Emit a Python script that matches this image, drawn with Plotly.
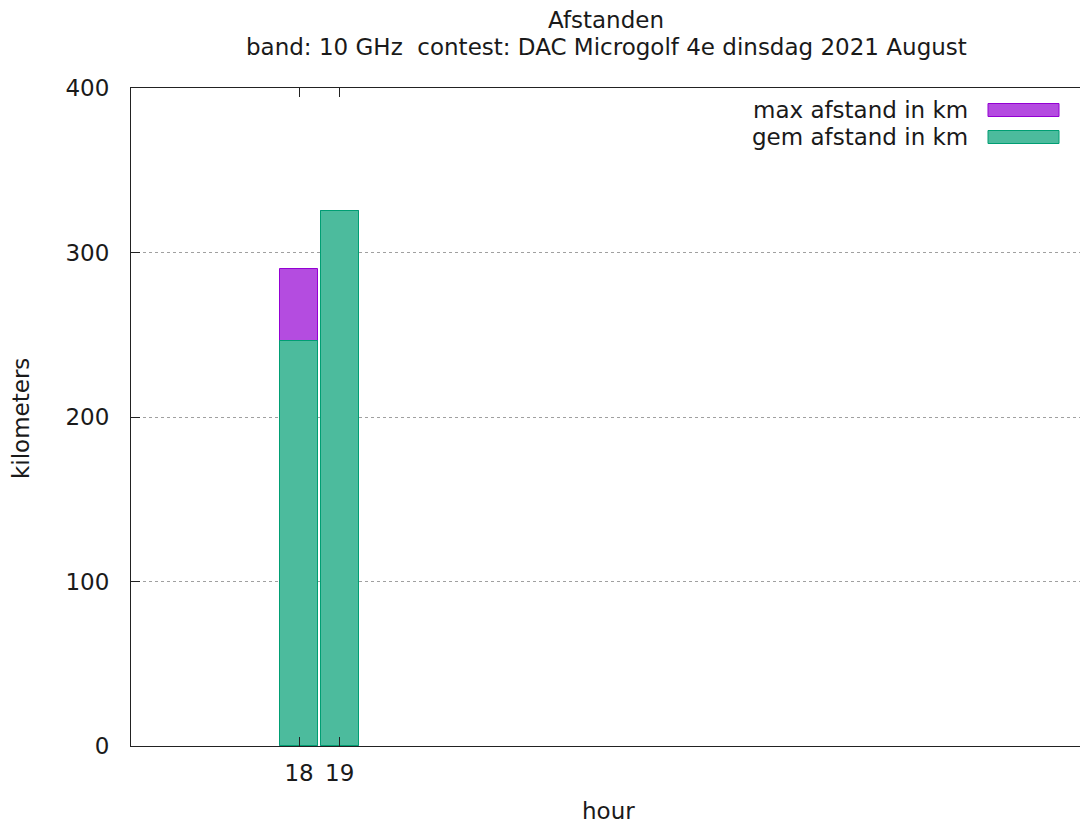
import plotly.graph_objects as go

hours = [18, 19]
max_km = [290, 325]
gem_km = [246, 325]
tick_labels = ["18", "19"]
y_ticks = [0, 100, 200, 300, 400]

FONT = "DejaVu Sans"
FS = 23
TXT = "#1a1a1a"

# plot area in page px: x 131..1080, y 88..746
def fx(px):
    return (px - 131) / 949

def fy(py):
    return (746 - py) / 658

fig = go.Figure()
fig.add_trace(go.Bar(
    x=hours, y=max_km, width=0.94, name="max afstand in km",
    marker=dict(color="#b44ce0", line=dict(color="#9400d3", width=1)),
    showlegend=False,
))
fig.add_trace(go.Bar(
    x=hours, y=gem_km, width=0.94, name="gem afstand in km",
    marker=dict(color="#4cbb9d", line=dict(color="#009e73", width=1)),
    showlegend=False,
))

legend_items = [("max afstand in km", "#b44ce0", "#9400d3"),
                ("gem afstand in km", "#4cbb9d", "#009e73")]
for i, (lab, fc, lc) in enumerate(legend_items):
    yc = 110 + i * 27
    fig.add_annotation(
        xref="paper", yref="paper", x=fx(970), y=fy(yc),
        text=lab, showarrow=False, xanchor="right", yanchor="middle",
        font=dict(family=FONT, size=FS, color=TXT),
    )
    fig.add_shape(
        type="rect", xref="paper", yref="paper",
        x0=fx(988), x1=fx(1059), y0=fy(yc + 6.5), y1=fy(yc - 6.5),
        fillcolor=fc, line=dict(color=lc, width=1),
    )

for txt, yc in [("Afstanden", 20),
                ("band: 10 GHz  contest: DAC Microgolf 4e dinsdag 2021 August", 47)]:
    fig.add_annotation(
        xref="paper", yref="paper", x=fx(606), y=fy(yc), text=txt,
        showarrow=False, xanchor="center", yanchor="middle",
        font=dict(family=FONT, size=FS, color=TXT),
    )
fig.add_annotation(
    xref="paper", yref="paper", x=fx(608), y=fy(811), text="hour",
    showarrow=False, xanchor="center", yanchor="middle",
    font=dict(family=FONT, size=FS, color=TXT),
)
fig.add_annotation(
    xref="paper", yref="paper", x=fx(21), y=fy(419), text="kilometers",
    showarrow=False, xanchor="center", yanchor="middle", textangle=-90,
    font=dict(family=FONT, size=FS, color=TXT),
)

fig.update_layout(
    width=1080, height=826,
    margin=dict(l=131, r=0, t=88, b=80),
    barmode="overlay", bargap=0,
    plot_bgcolor="white", paper_bgcolor="white",
    font=dict(family=FONT, size=FS, color=TXT),
    xaxis=dict(
        range=[13.87, 37.19], tickvals=hours, ticktext=tick_labels,
        showgrid=False, zeroline=False,
        showline=True, linecolor="#222", linewidth=1, mirror="allticks",
        ticks="inside", ticklen=9, tickcolor="#222",
        ticklabelstandoff=6,
        tickfont=dict(family=FONT, size=FS),
    ),
    yaxis=dict(
        range=[0, 400], tickvals=y_ticks,
        showgrid=True, gridcolor="#a0a0a0", griddash="dot", gridwidth=1,
        zeroline=False,
        showline=True, linecolor="#222", linewidth=1, mirror=False,
        ticks="inside", ticklen=9, tickcolor="#222",
        ticklabelstandoff=16,
        tickfont=dict(family=FONT, size=FS),
    ),
)

fig.write_html(
    "out.html",
    config={"displayModeBar": False},
    post_script="document.body.style.margin='0';document.body.style.overflow='hidden';",
)
